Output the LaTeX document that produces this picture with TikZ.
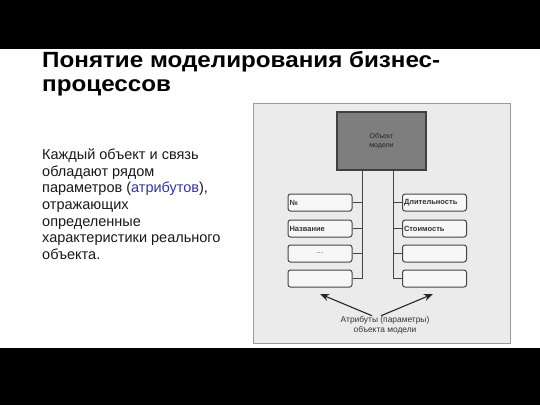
\documentclass[tikz,border=0pt]{standalone}
\usepackage{fontspec}
\setmainfont{Liberation Sans}
\newfontfamily\titlefont[FakeStretch=1.1]{Liberation Sans}
\usetikzlibrary{arrows.meta}
\definecolor{framefill}{HTML}{EBEBEB}
\definecolor{framedraw}{HTML}{9A9A9A}
\definecolor{objfill}{HTML}{7E7E7E}
\definecolor{boxdraw}{HTML}{454545}
\definecolor{bluetxt}{HTML}{3535A0}
\definecolor{smalltxt}{HTML}{333333}
\tikzset{
  band/.style={fill=black, draw=none},
  attrbox/.style={draw=boxdraw, line width=1pt, fill=white!60!framefill, rounded corners=2.5pt,
    minimum width=64pt, minimum height=17pt, inner sep=1.5pt, text=smalltxt,
    font=\fontsize{7.5}{8}\selectfont\bfseries, align=left, text width=61pt},
  conn/.style={draw=boxdraw, line width=1pt},
  arr/.style={draw=black!85, line width=1.1pt, -{Stealth[length=9pt,width=7pt]}},
  titletxt/.style={anchor=base west, inner sep=0, font=\titlefont\fontsize{22}{24}\selectfont\bfseries},
}
\begin{document}
\begin{tikzpicture}[x=1pt,y=-1pt]
\useasboundingbox (0,0) rectangle (540,405);
\fill[white] (0,0) rectangle (540,405);
\path[band] (0,0) rectangle (540,49);
\path[band] (0,348) rectangle (540,405);
% title
\node[titletxt] (t1) at (42,67.5) {Понятие моделирования бизнес-};
\node[titletxt] (t2) at (42,91.5) {процессов};
% body
\node[anchor=north west, inner sep=0, align=left, text=black!90,
  font=\fontsize{14.5}{16.7}\selectfont] (body) at (42,148.5)
  {Каждый объект и связь\\обладают рядом\\параметров (\textcolor{bluetxt}{атрибутов}),\\отражающих\\определенные\\характеристики реального\\объекта.};
% diagram frame
\node[draw=framedraw, fill=framefill, line width=0.8pt, minimum width=257pt, minimum height=240pt, inner sep=0] (frame) at (381.5,223) {};
% object
\node[draw=black!75, fill=objfill, line width=1.1pt, minimum width=89pt, minimum height=58pt, align=center,
  font=\fontsize{7}{9.5}\selectfont, text=black!85] (obj) at (381.5,141) {Объект\\модели};
% left boxes
\node[attrbox] (l1) at (320,202.5) {№};
\node[attrbox] (l2) at (320,228.5) {Название};
\node[attrbox, align=center] (l3) at (320,253.5) {\mdseries ...};
\node[attrbox] (l4) at (320,278.5) {};
% right boxes
\node[attrbox] (r1) at (434.5,202.5) {Длительность};
\node[attrbox] (r2) at (434.5,228.5) {Стоимость};
\node[attrbox] (r3) at (434.5,253.5) {};
\node[attrbox] (r4) at (434.5,278.5) {};
% trunks
\coordinate (lv) at (362,278.5);
\coordinate (rv) at (393,278.5);
\draw[conn] (obj.south -| lv) -- (lv);
\draw[conn] (obj.south -| rv) -- (rv);
\foreach \b in {l1,l2,l3,l4} { \draw[conn] (\b.east) -- (\b.east -| lv); }
\foreach \b in {r1,r2,r3,r4} { \draw[conn] (\b.west) -- (\b.west -| rv); }
% label and arrows
\node[align=center, inner sep=1pt, text=smalltxt, font=\fontsize{8.4}{10.3}\selectfont] (lab) at (385,325) {Атрибуты (параметры)\\объекта модели};
\coordinate (al) at (320,294);
\coordinate (ar) at (433,294);
\draw[arr] ([xshift=-13pt,yshift=-1pt]lab.north) -- (al);
\draw[arr] ([xshift=-4pt,yshift=-1pt]lab.north) -- (ar);
\end{tikzpicture}
\end{document}
